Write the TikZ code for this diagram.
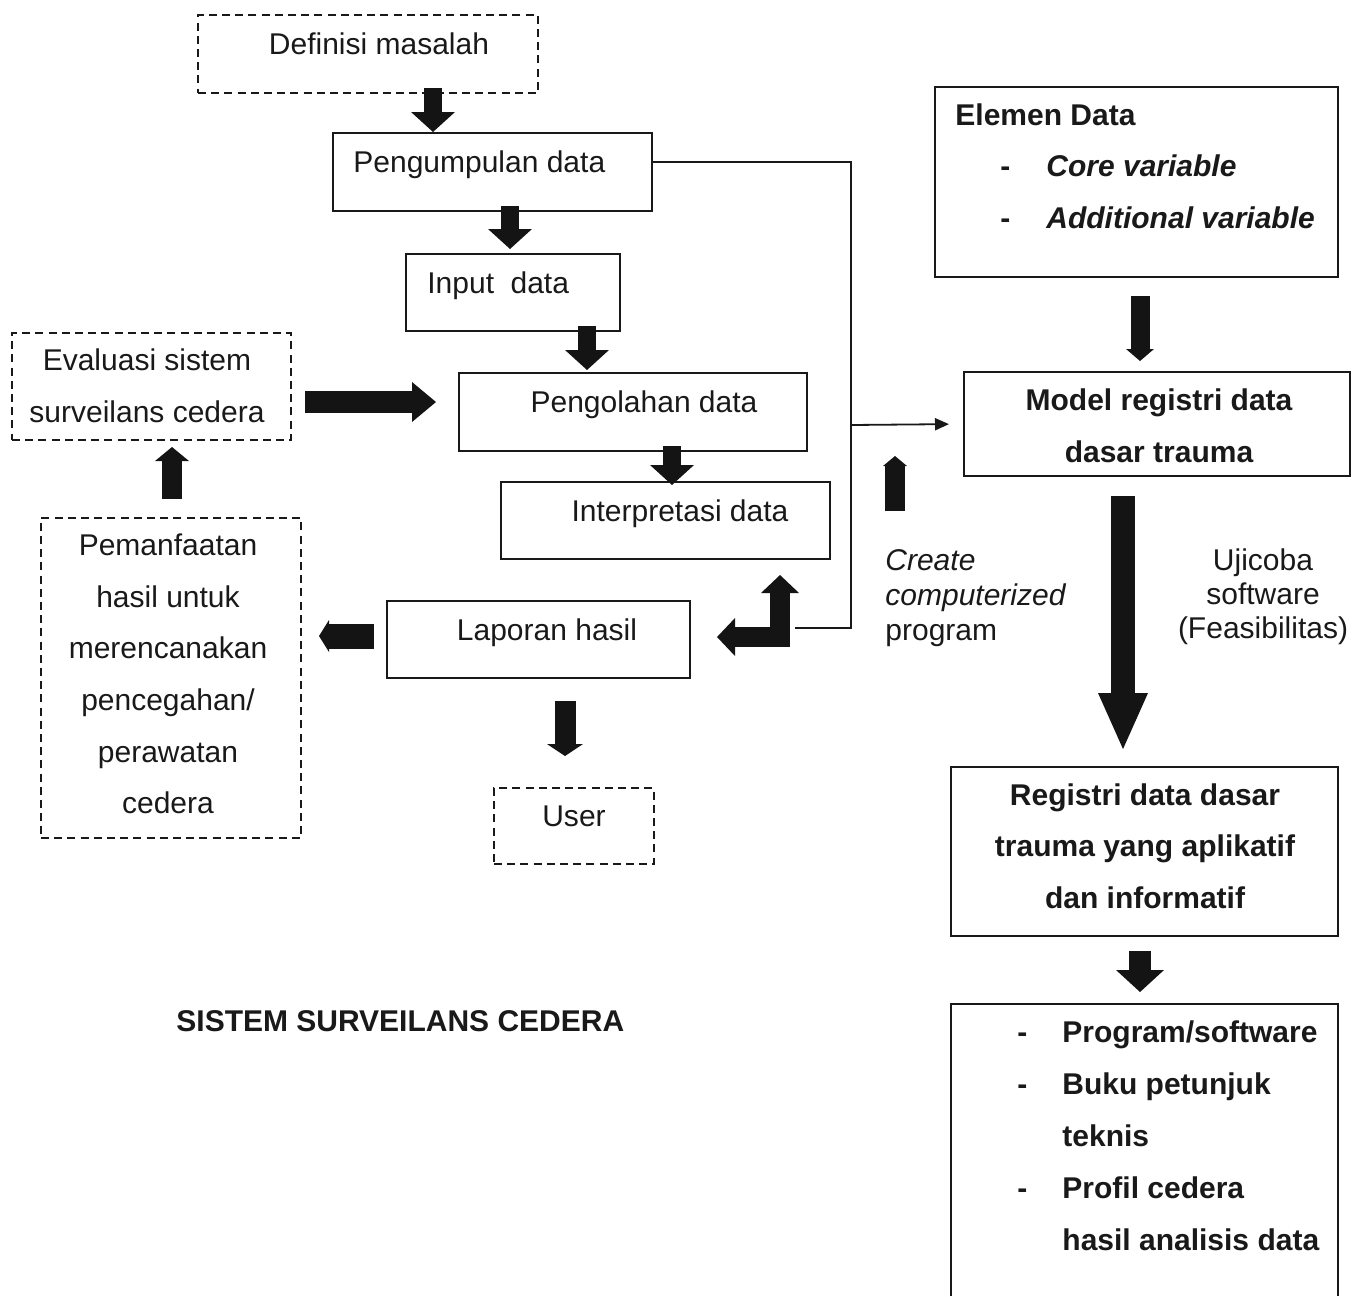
\documentclass[tikz,border=0pt]{standalone}
\usepackage{fontspec}
\setmainfont{Liberation Sans}
\usetikzlibrary{arrows.meta,fit,calc}
\begin{document}
\begin{tikzpicture}[x=0.5pt,y=-0.5pt,
  box/.style={draw=black!90, line width=1pt, inner sep=0pt},
  dbox/.style={box, dash pattern=on 4pt off 2.6pt},
  txt/.style={font=\fontsize{15}{26}\selectfont, inner sep=0pt, text=black!90},
  btxt/.style={txt, font=\fontsize{15}{26}\selectfont\bfseries},
  link/.style={line width=0.9pt, draw=black!90},
  barrow/.style n args={3}{line width=#1, draw=black!92, line join=miter,
     -{Triangle[width=#2,length=#3,line width=0pt]}},
]
\useasboundingbox (0,0) rectangle (1352,1296);

% ---------- boxes ----------
\node[dbox, fit={(198,15)(538,93)}]   (def)    {};
\node[box,  fit={(333,133)(652,211)}] (peng)   {};
\node[box,  fit={(406,254)(620,331)}] (inp)    {};
\node[box,  fit={(459,373)(807,451)}] (olah)   {};
\node[box,  fit={(501,482)(830,559)}] (interp) {};
\node[box,  fit={(387,601)(690,678)}] (lap)    {};
\node[dbox, fit={(494,788)(654,864)}] (user)   {};
\node[dbox, fit={(12,333)(291,440)}]  (eval)   {};
\node[dbox, fit={(41,518)(301,838)}]  (pem)    {};
\node[box,  fit={(935,87)(1338,277)}] (elem)   {};
\node[box,  fit={(964,372)(1350,476)}] (model) {};
\node[box,  fit={(951,767)(1338,936)}] (reg)   {};
\coordinate (outtop) at (1144.5,1004);
\draw[link, line width=1pt] (951,1296) -- (951,1004) -- (1338,1004) -- (1338,1296);

% ---------- texts ----------
\node[txt, anchor=base] (tdef) at (379,54) {Definisi masalah};
\node[txt, anchor=base west] (tpeng) at (353,172) {Pengumpulan data};
\node[txt, anchor=base west] (tinp) at (427,293) {Input\hspace{0.55em}data};
\node[txt, anchor=base] (tolah) at (644,412) {Pengolahan data};
\node[txt, anchor=base] (tinterp) at (680,521) {Interpretasi data};
\node[txt, anchor=base] (tlap) at (547,640) {Laporan hasil};
\node[txt, anchor=base] (tuser) at (574,826) {User};
\node[txt, align=center] (teval) at (147,386) {Evaluasi sistem\\surveilans cedera};
\node[txt, align=center, font=\fontsize{15}{25.8}\selectfont] (tpem) at (168,674)
  {Pemanfaatan\\hasil untuk\\merencanakan\\pencegahan/\\perawatan\\cedera};

\node[btxt, anchor=base west] (telem) at (955,125) {Elemen Data};
\node[btxt, anchor=base west] (d1) at (1000,176) {-};
\node[btxt, anchor=base west] (tcore) at (1046,176) {\itshape Core variable};
\node[btxt, anchor=base west] (d2) at (1000,228) {-};
\node[btxt, anchor=base west] (tadd) at (1046,228) {\itshape Additional variable};

\node[btxt, align=center] (tmodel) at (1159,426) {Model registri data\\dasar trauma};
\node[btxt, align=center, font=\fontsize{15}{25.75}\selectfont\bfseries] (treg) at (1145,846)
  {Registri data dasar\\trauma yang aplikatif\\dan informatif};

\node[btxt, anchor=base west] (o1d) at (1017,1042) {-};
\node[btxt, anchor=base west] (o1)  at (1062,1042) {Program/software};
\node[btxt, anchor=base west] (o2d) at (1017,1094) {-};
\node[btxt, anchor=base west] (o2)  at (1062,1094) {Buku petunjuk};
\node[btxt, anchor=base west] (o3)  at (1062,1146) {teknis};
\node[btxt, anchor=base west] (o4d) at (1017,1198) {-};
\node[btxt, anchor=base west] (o4)  at (1062,1198) {Profil cedera};
\node[btxt, anchor=base west] (o5)  at (1062,1250) {hasil analisis data};

\node[btxt, anchor=base west] (title) at (176,1031) {SISTEM SURVEILANS CEDERA};

\node[txt, align=left, anchor=west, font=\fontsize{15}{17.5}\selectfont] (tcreate) at (885,598)
  {\itshape Create\\\itshape computerized\\program};
\node[txt, align=center, font=\fontsize{15}{17}\selectfont] (tuji) at (1263,597)
  {Ujicoba\\software\\(Feasibilitas)};

% ---------- thin connectors ----------
\coordinate (j) at (851,425);
\coordinate (bendc) at (780,637);
\draw[link] ([yshift=5pt]peng.east) -| (j) |- ([xshift=7.5pt,yshift=4.5pt]bendc);
\draw[link, -{Triangle[width=6pt,length=7pt]}, shorten >=7pt] (j) -- (model.west);

% ---------- block arrows ----------
\draw[barrow={9pt}{22pt}{10pt}] ([xshift=32.5pt,yshift=3pt]def.south) -- ([xshift=-29.75pt]peng.north);
\draw[barrow={9pt}{22pt}{10pt}] ([xshift=8.75pt,yshift=3pt]peng.south) -- ([xshift=-1.5pt,yshift=2pt]inp.north);
\draw[barrow={9pt}{22pt}{10pt}] ([xshift=37pt,yshift=3pt]inp.south) -- ([xshift=-23pt,yshift=1pt]olah.north);
\draw[barrow={9pt}{22pt}{10pt}] ([xshift=19.5pt,yshift=3pt]olah.south) -- ([xshift=3.25pt,yshift=-2pt]interp.north);

\draw[barrow={11pt}{20pt}{12pt}] ([xshift=6.5pt,yshift=-7.75pt]eval.east) -- ([xshift=-11pt,yshift=5pt]olah.west);
\draw[barrow={10pt}{17pt}{7pt}] ([xshift=0.5pt,yshift=9pt]pem.north) -- ([xshift=10.25pt,yshift=-3pt]eval.south);
\draw[barrow={12.5pt}{16pt}{5pt}] ([xshift=-6pt,yshift=1.75pt]lap.west) -- ([xshift=8.5pt,yshift=21pt]pem.east);
\draw[barrow={10.5pt}{18pt}{6pt}] ([xshift=13.25pt,yshift=-11pt]lap.south) -- ([xshift=-4.5pt,yshift=15.5pt]user.north);

\draw[line width=10pt, draw=black!92, line join=miter,
  {Triangle[width=19pt,length=9pt,line width=0pt]}-{Triangle[width=19pt,length=9pt,line width=0pt]}]
  ([yshift=31pt]bendc) -- (bendc) -- ([xshift=-31.5pt]bendc);

\draw[barrow={10pt}{12pt}{5pt}] ([xshift=5pt,yshift=19pt]tcreate.north west) -- ([xshift=5pt,yshift=46.5pt]tcreate.north west);

\draw[barrow={9.5pt}{14pt}{6pt}] ([xshift=1.75pt,yshift=-9pt]elem.south) -- ([xshift=-8.5pt,yshift=5pt]model.north);
\draw[barrow={12pt}{25pt}{28pt}] ([xshift=-17pt,yshift=-9.5pt]model.south) -- ([xshift=-10.75pt,yshift=8.5pt]reg.north);
\draw[barrow={11pt}{24pt}{11pt}] ([xshift=-2.25pt,yshift=-7pt]reg.south) -- ([xshift=-2.25pt,yshift=6pt]outtop);
\end{tikzpicture}
\end{document}
